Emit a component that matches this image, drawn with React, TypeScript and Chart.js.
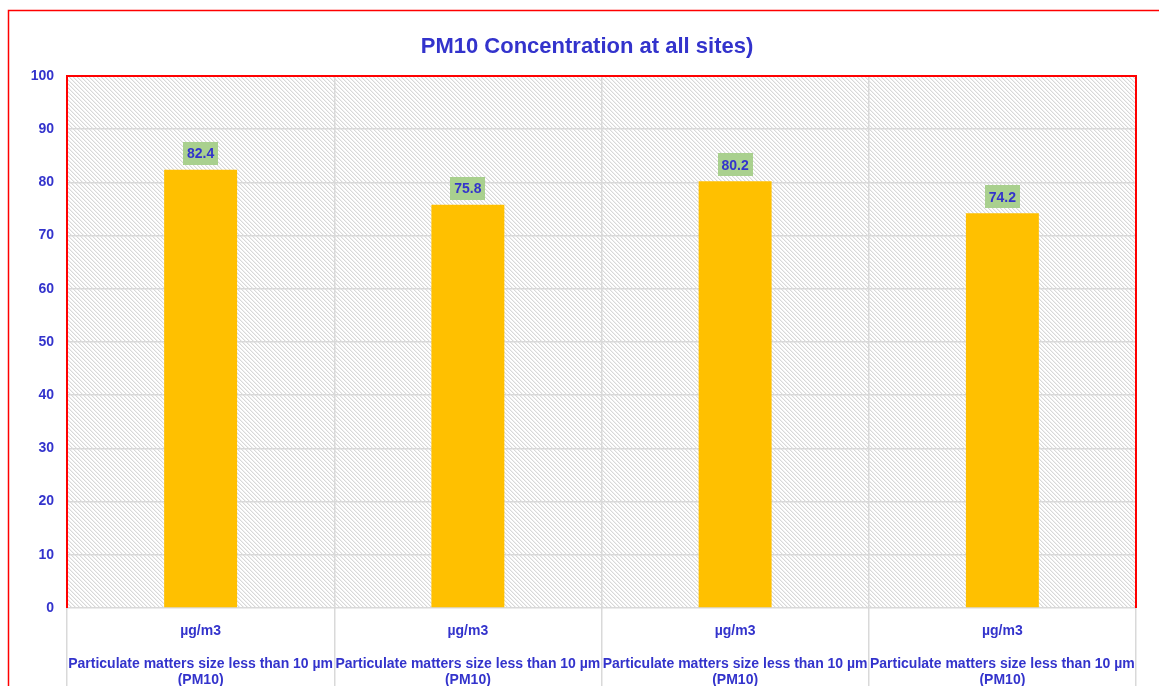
import { useEffect, useRef } from "react";
import { Chart, registerables } from "chart.js";

Chart.register(...registerables);

const titleText = "PM10 Concentration at all sites)";
const unitLabel = "µg/m3";
const categoryNames = [
  ["Particulate matters size less than 10 µm", "(PM10)"],
  ["Particulate matters size less than 10 µm", "(PM10)"],
  ["Particulate matters size less than 10 µm", "(PM10)"],
  ["Particulate matters size less than 10 µm", "(PM10)"],
];
const values = [82.4, 75.8, 80.2, 74.2];
const yMin = 0;
const yMax = 100;
const yStep = 10;

const BLUE = "#3333CC";
const FONT = "'Liberation Sans', Arial, sans-serif";

function makeHatch(): CanvasPattern | string {
  const c = document.createElement("canvas");
  c.width = 4;
  c.height = 4;
  const g = c.getContext("2d");
  if (!g) return "#f0f0f0";
  g.fillStyle = "#ffffff";
  g.fillRect(0, 0, 4, 4);
  for (let i = 0; i < 4; i++) {
    g.fillStyle = "#d8d8d8";
    g.fillRect(i, i, 1, 1);
    g.fillStyle = "#f0f0f0";
    g.fillRect((i + 1) % 4, i, 1, 1);
  }
  const p = g.createPattern(c, "repeat");
  return p || "#f0f0f0";
}

export default function App() {
  const ref = useRef<HTMLCanvasElement | null>(null);

  useEffect(() => {
    if (!ref.current) return;
    const hatch = makeHatch();

    const bgPlugin = {
      id: "bgPlugin",
      beforeDraw(chart: any) {
        const { ctx, chartArea } = chart;
        ctx.save();
        ctx.fillStyle = "#ffffff";
        ctx.fillRect(0, 0, chart.width, chart.height);
        ctx.fillStyle = hatch;
        ctx.fillRect(chartArea.left, chartArea.top, chartArea.right - chartArea.left, chartArea.bottom - chartArea.top);
        ctx.restore();
      },
      afterDraw(chart: any) {
        const { ctx, chartArea } = chart;
        ctx.save();
        ctx.strokeStyle = "#FF0000";
        ctx.lineWidth = 1.5;
        ctx.strokeRect(8.5, 10.5, chart.width + 20, chart.height + 20);
        ctx.lineWidth = 2;
        ctx.beginPath();
        ctx.moveTo(chartArea.left, chartArea.bottom);
        ctx.lineTo(chartArea.left, chartArea.top);
        ctx.lineTo(chartArea.right, chartArea.top);
        ctx.lineTo(chartArea.right, chartArea.bottom);
        ctx.stroke();
        ctx.fillStyle = BLUE;
        ctx.font = `bold 22px ${FONT}`;
        ctx.textAlign = "center";
        ctx.textBaseline = "middle";
        ctx.fillText(titleText, 587, 47);
        ctx.restore();
      },
      afterDatasetsDraw(chart: any) {
        const { ctx } = chart;
        const meta = chart.getDatasetMeta(0);
        ctx.save();
        ctx.font = `bold 14px ${FONT}`;
        ctx.textAlign = "center";
        ctx.textBaseline = "middle";
        meta.data.forEach((bar: any, i: number) => {
          const txt = values[i].toFixed(1);
          const w = ctx.measureText(txt).width + 8;
          const h = 23;
          const x = bar.x;
          const yb = bar.y - 5;
          ctx.fillStyle = "#A9D08E";
          ctx.fillRect(Math.round(x - w / 2), Math.round(yb - h), Math.round(w), h);
          ctx.fillStyle = BLUE;
          ctx.fillText(txt, x, yb - h / 2 + 1);
        });
        ctx.restore();
      },
    };

    const chart = new Chart(ref.current, {
      type: "bar",
      data: {
        labels: categoryNames.map((c) => [unitLabel, "", ...c]),
        datasets: [
          {
            data: values,
            backgroundColor: "#FFC000",
            borderWidth: 0,
            categoryPercentage: 1,
            barPercentage: 0.273,
          },
        ],
      },
      options: {
        animation: false,
        responsive: true,
        maintainAspectRatio: false,
        layout: { padding: { left: 0, top: 76, right: 23, bottom: 0 } },
        plugins: {
          legend: { display: false },
          title: { display: false },
          tooltip: { enabled: false },
        },
        scales: {
          x: {
            type: "category",
            border: { display: false },
            grid: {
              offset: true,
              color: "#d9d9d9",
              lineWidth: 1.5,
              drawTicks: true,
              tickLength: 80,
            },
            ticks: {
              color: BLUE,
              font: { family: FONT, size: 14, weight: "bold", lineHeight: 1.17 },
              padding: -65,
              maxRotation: 0,
              autoSkip: false,
            },
            afterFit(scale: any) {
              scale.height = 78;
            },
          },
          y: {
            min: yMin,
            max: yMax,
            border: { display: false },
            grid: { color: "#d9d9d9", lineWidth: 1.5, drawTicks: false },
            ticks: {
              stepSize: yStep,
              color: BLUE,
              padding: 13,
              font: { family: FONT, size: 14, weight: "bold" },
            },
            afterFit(scale: any) {
              scale.width = 67;
            },
          },
        },
      },
      plugins: [bgPlugin],
    });

    return () => chart.destroy();
  }, []);

  return (
    <div style={{ position: "fixed", left: 0, top: 0, width: 1159, height: 686, overflow: "hidden", background: "#fff" }}>
      <canvas ref={ref} />
    </div>
  );
}
